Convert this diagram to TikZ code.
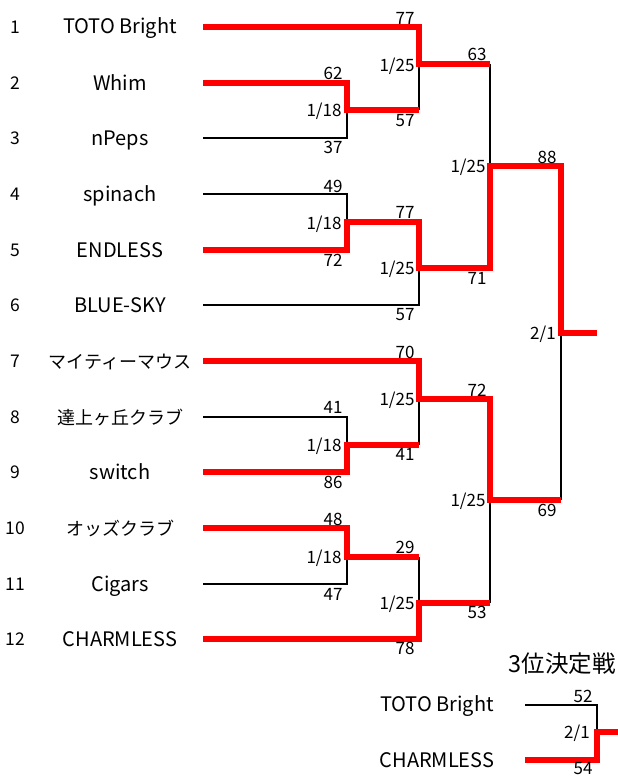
\documentclass[tikz,border=0pt]{standalone}
\usepackage{fontspec}
\setmainfont{Noto Sans CJK JP}
\begin{document}
\begin{tikzpicture}[x=1pt,y=-1pt,
  win/.style={draw=red,line width=5.5pt,line join=miter},
  lose/.style={draw=black,line width=1.8pt},
  team/.style={font=\fontsize{20}{20}\selectfont,inner sep=0pt,anchor=base},
  jteam/.style={font=\fontsize{18}{18}\selectfont,inner sep=0pt,anchor=base},
  seed/.style={font=\fontsize{17.5}{17.5}\selectfont,inner sep=0pt,anchor=base},
  score/.style={font=\fontsize{17}{17}\selectfont,inner sep=0pt,anchor=base},
  title/.style={font=\fontsize{23.5}{23.5}\selectfont,inner sep=0pt,anchor=base}]
\useasboundingbox (0,0) rectangle (618,776);
% seeds and team names
\foreach \i/\y/\t/\s in {1/27/TOTO Bright/team,2/83/Whim/team,3/138/nPeps/team,4/194/spinach/team,5/250/ENDLESS/team,6/305/BLUE-SKY/team,7/361/マイティーマウス/jteam,8/417/達上ヶ丘クラブ/jteam,9/472/switch/team,10/528/オッズクラブ/jteam,11/584/Cigars/team,12/639/CHARMLESS/team}{
  \node[seed] (n\i) at (15,\y+6.5) {\i};
  \node[\s] (t\i) at (120,\y+7) {\t};
  \coordinate (s\i) at (203,\y);
}
% junction coordinates
\coordinate (a1) at (347,83);  \coordinate (a2) at (347,138); \coordinate (m23) at (347,110);
\coordinate (a4) at (347,194); \coordinate (a5) at (347,250); \coordinate (m45) at (347,222);
\coordinate (a8) at (347,417); \coordinate (a9) at (347,472); \coordinate (m89) at (347,445);
\coordinate (a10) at (347,528); \coordinate (a11) at (347,584); \coordinate (m1011) at (347,557);
\coordinate (b1) at (419,27);  \coordinate (b23) at (419,110); \coordinate (q1) at (419,64);
\coordinate (b45) at (419,222); \coordinate (b6) at (419,305); \coordinate (q2) at (419,268);
\coordinate (b7) at (419,361); \coordinate (b89) at (419,445); \coordinate (q3) at (419,399);
\coordinate (b1011) at (419,557); \coordinate (b12) at (419,639); \coordinate (q4) at (419,603);
\coordinate (c1) at (490,64); \coordinate (c2) at (490,268); \coordinate (s1j) at (490,166);
\coordinate (c3) at (490,399); \coordinate (c4) at (490,603); \coordinate (s2j) at (490,500);
\coordinate (d1) at (561,166); \coordinate (d2) at (561,500); \coordinate (fj) at (561,333);
\coordinate (fout) at (597,333);
% losing lines
\draw[lose] (s3) -- (a2) -- (m23);
\draw[lose] (s4) -- (a4) -- (m45);
\draw[lose] (s6) -- (b6) -- (q2);
\draw[lose] (s8) -- (a8) -- (m89);
\draw[lose] (s11) -- (a11) -- (m1011);
\draw[lose] (b23) -- (q1);
\draw[lose] (b89) -- (q3);
\draw[lose] (b1011) -- (q4);
\draw[lose] (c1) -- (s1j);
\draw[lose] (c4) -- (s2j);
\draw[lose] (d2) -- (fj);
% winning lines
\draw[win] (s1) -- (b1) -- (q1) -- (c1);
\draw[win] (s2) -- (a1) -- (m23) -- (b23);
\draw[win] (s5) -- (a5) -- (m45) -- (b45) -- (q2) -- (c2) -- (s1j) -- (d1) -- (fj) -- (fout);
\draw[win] (s7) -- (b7) -- (q3) -- (c3) -- (s2j) -- (d2);
\draw[win] (s9) -- (a9) -- (m89) -- (b89);
\draw[win] (s10) -- (a10) -- (m1011) -- (b1011);
\draw[win] (s12) -- (b12) -- (q4) -- (c4);
% scores round 1
\node[score] (p2) at (333,80) {62};
\node[score] (r23) at (324,116) {1/18};
\node[score] (p3) at (333,153) {37};
\node[score] (p4) at (333,192) {49};
\node[score] (r45) at (324,229) {1/18};
\node[score] (p5) at (333,266) {72};
\node[score] (p8) at (333,413) {41};
\node[score] (r89) at (324,451) {1/18};
\node[score] (p9) at (333,488) {86};
\node[score] (p10) at (333,525) {48};
\node[score] (r1011) at (324,563) {1/18};
\node[score] (p11) at (333,600) {47};
% round 2
\node[score] (p1) at (405,25) {77};
\node[score] (rq1) at (397,71) {1/25};
\node[score] (p23) at (405,126) {57};
\node[score] (p45) at (405,218) {77};
\node[score] (rq2) at (397,274) {1/25};
\node[score] (p6) at (405,320) {57};
\node[score] (p7) at (405,358) {70};
\node[score] (rq3) at (397,405) {1/25};
\node[score] (p89) at (405,460) {41};
\node[score] (p1011) at (405,553) {29};
\node[score] (rq4) at (397,609) {1/25};
\node[score] (p12) at (405,654) {78};
% semis
\node[score] (pq1) at (477,60) {63};
\node[score] (rs1) at (468,172) {1/25};
\node[score] (pq2) at (477,284) {71};
\node[score] (pq3) at (477,396) {72};
\node[score] (rs2) at (468,506) {1/25};
\node[score] (pq4) at (477,618) {53};
% final
\node[score] (ps1) at (547,163) {88};
\node[score] (rf) at (543,339) {2/1};
\node[score] (ps2) at (547,516) {69};
% third place
\node[title] (tp) at (562,672) {3位決定戦};
\node[team] (tA) at (437,711) {TOTO Bright};
\node[team] (tB) at (437,767) {CHARMLESS};
\coordinate (e1) at (525,705); \coordinate (e2) at (525,760);
\coordinate (e1r) at (597,705); \coordinate (e2r) at (597,760);
\coordinate (ej) at (597,732); \coordinate (eout) at (618,732);
\draw[lose] (e1) -- (e1r) -- (ej);
\draw[win] (e2) -- (e2r) -- (ej) -- (eout);
\node[score] (pA) at (583,702) {52};
\node[score] (rt) at (577,738) {2/1};
\node[score] (pB) at (583,774.5) {54};
\end{tikzpicture}
\end{document}
